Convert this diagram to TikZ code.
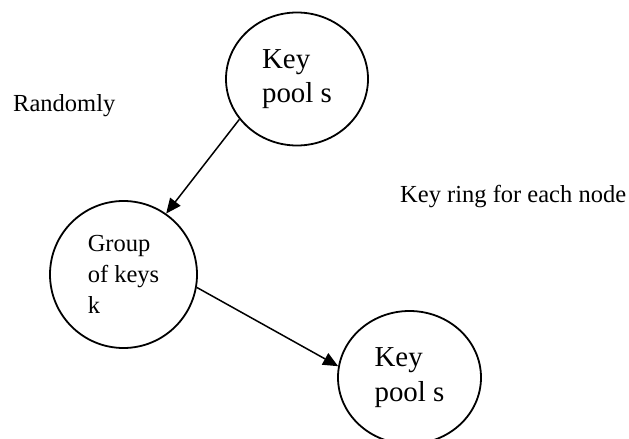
\documentclass[tikz,border=0pt]{standalone}
\usepackage{fontspec}
\setmainfont{Liberation Serif}
\usetikzlibrary{shapes.geometric,arrows.meta}

\tikzset{
  pool/.style={draw, ellipse, line width=1.8bp, inner sep=0pt, align=left,
    font=\fontsize{29}{34.5}\selectfont},
  group/.style={draw, ellipse, line width=1.8bp, inner sep=0pt, align=left,
    font=\fontsize{24.6}{31.5}\selectfont},
  caption/.style={anchor=base west, inner sep=0pt, font=\fontsize{24.6}{30}\selectfont},
  link/.style={line width=1.5bp, -{Triangle[length=15bp,width=13bp]}}
}

\begin{document}
\begin{tikzpicture}[x=1bp, y=-1bp]
  \useasboundingbox (0,0) rectangle (629,439);
  \clip (0,0) rectangle (629,439);

  % key pools and the chosen group
  \node[pool, minimum width=142bp, minimum height=133bp] (pooltop) at (297,79) {Key\\pool s};
  \node[group, minimum width=147bp, minimum height=147bp] (keygroup) at (123.5,274.5) {Group\\of keys\\k};
  \node[pool, minimum width=143bp, minimum height=133bp] (poolbottom) at (409.5,377.5) {Key\\pool s};

  % free labels
  \node[caption] (randomly) at (13,112) {Randomly};
  \node[caption] (keyring) at (400,203) {Key ring for each node};

  % connectors
  \draw[link] (pooltop.215) -- (keygroup.55);
  \draw[link] (keygroup.-10) -- (poolbottom.171);
\end{tikzpicture}
\end{document}
